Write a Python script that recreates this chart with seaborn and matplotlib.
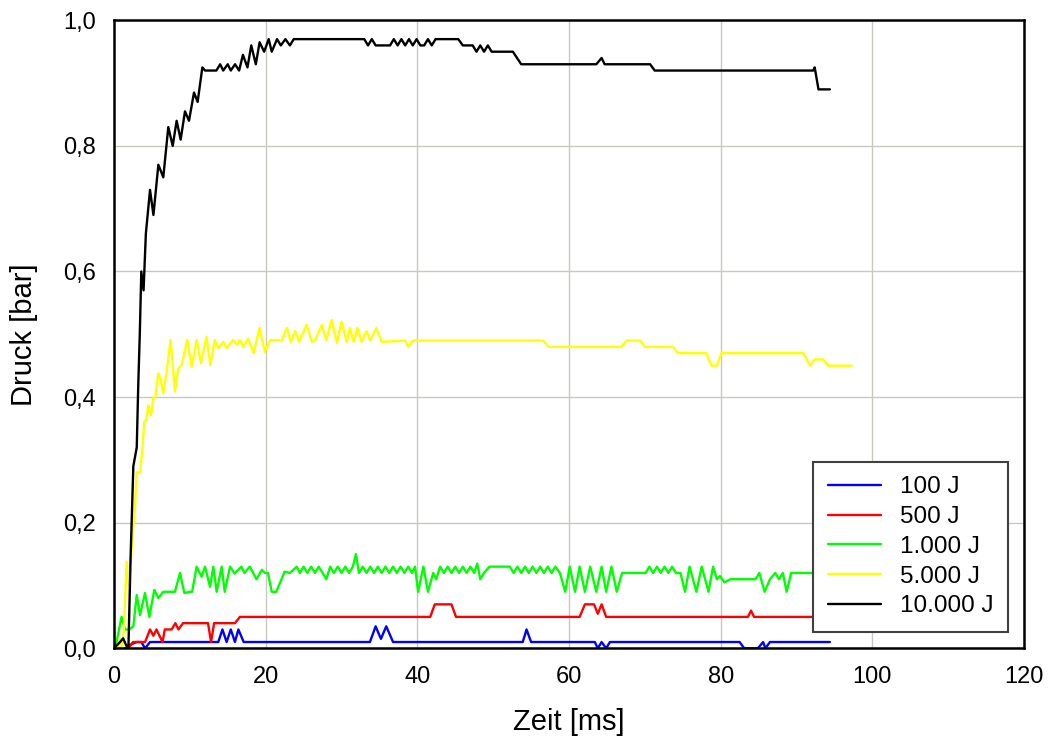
import numpy as np
import pandas as pd
import matplotlib
matplotlib.use("Agg")
import matplotlib.pyplot as plt
import seaborn as sns

# ---------------- data ----------------
x_100 = [0, 1.5, 2.0, 3.0, 3.6, 4.1, 4.75, 13.75, 14.3, 14.85, 15.4, 15.95, 16.4, 17.1,
         33.75, 34.5, 35.2, 35.9, 36.8, 53.9, 54.4, 55.0, 63.4, 63.8, 64.3, 64.9, 65.4,
         82.5, 83.1, 84.9, 85.6, 85.9, 86.5, 94.4]
y_100 = [0.0, 0.0, 0.005, 0.01, 0.01, 0.0, 0.01, 0.01, 0.03, 0.01, 0.03, 0.01, 0.03, 0.01,
         0.01, 0.035, 0.015, 0.035, 0.01, 0.01, 0.03, 0.01, 0.01, 0.0, 0.01, 0.0, 0.01,
         0.01, 0.0, 0.0, 0.01, 0.0, 0.01, 0.01]

x_500 = [0, 1.9, 2.5, 3.0, 4.1, 4.75, 5.2, 5.6, 6.0, 6.4, 6.7, 7.6, 8.1, 8.5, 9.1, 12.4,
         12.8, 13.2, 15.95, 16.6, 41.7, 42.3, 44.5, 45.1, 61.4, 62.1, 63.3, 63.8, 64.3,
         64.9, 83.6, 84.0, 84.4, 95.0]
y_500 = [0.0, 0.0, 0.01, 0.01, 0.01, 0.03, 0.02, 0.03, 0.02, 0.01, 0.03, 0.03, 0.04, 0.03,
         0.04, 0.04, 0.01, 0.04, 0.04, 0.05, 0.05, 0.07, 0.07, 0.05, 0.05, 0.07, 0.07,
         0.055, 0.07, 0.05, 0.05, 0.06, 0.05, 0.05]

x_1000 = [0, 0.3, 1.0, 1.45, 2.0, 2.55, 3.0, 3.43, 4.09, 4.66, 5.32, 5.84, 6.5, 8.04, 8.7,
          9.28, 9.9, 10.3, 10.9, 11.56, 12.0, 12.66, 13.1, 13.54, 14.2, 14.6, 15.3, 15.9,
          16.8, 17.2, 17.9, 18.8, 19.5, 19.9, 20.3, 20.8, 21.4, 22.5, 23.2, 24.1, 24.5,
          25.0, 25.5, 26.0, 26.5, 27.0, 27.5, 28.0, 28.5, 29.0, 29.5, 30.0, 30.5, 31.0,
          31.5, 31.9, 32.3, 32.8, 33.3, 33.8, 34.3, 34.8, 35.3, 35.8, 36.3, 36.8, 37.3,
          37.8, 38.3, 38.8, 39.3, 39.7, 40.1, 40.8, 41.4, 42.1, 42.5, 43.0, 43.5, 44.0,
          44.5, 45.0, 45.5, 46.0, 46.5, 47.0, 47.5, 47.9, 48.3, 48.8, 49.5, 52.2, 52.7,
          53.2, 53.7, 54.2, 54.7, 55.2, 55.7, 56.2, 56.7, 57.2, 57.7, 58.2, 58.8, 59.5,
          60.1, 60.8, 61.4, 62.1, 62.8, 63.6, 64.3, 64.9, 65.6, 66.3, 67.0, 70.1, 70.6,
          71.1, 71.6, 72.1, 72.6, 73.1, 73.6, 74.1, 74.7, 75.3, 75.9, 76.8, 77.5, 78.4,
          79.0, 79.5, 79.9, 80.5, 81.3, 84.6, 85.1, 85.8, 86.5, 87.2, 87.7, 88.2, 88.7,
          89.3, 96.0]
y_1000 = [0.0, 0.008, 0.05, 0.03, 0.03, 0.035, 0.085, 0.053, 0.088, 0.05, 0.093, 0.08, 0.09,
          0.09, 0.12, 0.088, 0.09, 0.09, 0.13, 0.114, 0.13, 0.098, 0.13, 0.09, 0.13, 0.09,
          0.13, 0.119, 0.13, 0.12, 0.13, 0.11, 0.125, 0.12, 0.12, 0.09, 0.09, 0.122, 0.12,
          0.13, 0.12, 0.13, 0.12, 0.13, 0.12, 0.13, 0.12, 0.11, 0.13, 0.12, 0.13, 0.12,
          0.13, 0.12, 0.13, 0.15, 0.12, 0.13, 0.12, 0.13, 0.12, 0.13, 0.12, 0.13, 0.12,
          0.13, 0.12, 0.13, 0.12, 0.13, 0.12, 0.13, 0.09, 0.13, 0.09, 0.12, 0.11, 0.13,
          0.12, 0.13, 0.12, 0.13, 0.12, 0.13, 0.12, 0.13, 0.12, 0.135, 0.11, 0.12, 0.13,
          0.13, 0.12, 0.13, 0.12, 0.13, 0.12, 0.13, 0.12, 0.13, 0.12, 0.13, 0.12, 0.13,
          0.12, 0.09, 0.13, 0.09, 0.13, 0.09, 0.13, 0.09, 0.13, 0.09, 0.13, 0.09, 0.12,
          0.12, 0.13, 0.12, 0.13, 0.12, 0.13, 0.12, 0.13, 0.12, 0.12, 0.09, 0.13, 0.09,
          0.13, 0.09, 0.13, 0.11, 0.115, 0.105, 0.11, 0.11, 0.12, 0.09, 0.11, 0.12, 0.11,
          0.12, 0.09, 0.12, 0.12]

x_5000 = [0, 0.5, 0.8, 1.1, 1.3, 1.67, 2.0, 2.33, 2.77, 2.99, 3.43, 3.65, 4.0, 4.3, 4.53,
          4.88, 5.18, 5.45, 5.84, 6.1, 6.5, 6.94, 7.47, 8.04, 8.48, 8.9, 9.67, 10.24, 10.9,
          11.47, 12.2, 12.7, 13.3, 13.75, 14.4, 14.86, 15.7, 16.2, 16.6, 17.05, 17.7, 18.4,
          19.2, 19.9, 20.6, 22.1, 22.8, 23.3, 23.9, 24.4, 25.4, 26.1, 26.5, 27.4, 28.0,
          28.7, 29.4, 30.0, 30.7, 31.1, 31.6, 32.1, 32.65, 33.3, 33.8, 34.6, 35.3, 38.4,
          38.8, 39.4, 56.6, 57.3, 66.9, 67.6, 69.4, 70.0, 73.7, 74.4, 78.1, 78.8, 79.5,
          80.1, 90.9, 91.8, 92.4, 93.5, 94.2, 97.3]
y_5000 = [0.0, 0.0, 0.015, 0.0, 0.03, 0.138, 0.10, 0.16, 0.225, 0.28, 0.28, 0.305, 0.36,
          0.365, 0.387, 0.371, 0.398, 0.40, 0.438, 0.43, 0.406, 0.44, 0.491, 0.409, 0.446,
          0.45, 0.491, 0.448, 0.491, 0.454, 0.496, 0.451, 0.491, 0.478, 0.488, 0.478, 0.491,
          0.483, 0.491, 0.48, 0.493, 0.47, 0.51, 0.472, 0.491, 0.49, 0.51, 0.488, 0.505,
          0.488, 0.515, 0.488, 0.49, 0.515, 0.491, 0.523, 0.486, 0.52, 0.488, 0.51, 0.488,
          0.51, 0.488, 0.505, 0.49, 0.51, 0.488, 0.49, 0.48, 0.49, 0.49, 0.48, 0.48, 0.49,
          0.49, 0.48, 0.48, 0.47, 0.47, 0.45, 0.45, 0.47, 0.47, 0.45, 0.46, 0.46, 0.45, 0.45]

x_10000 = [0, 0.8, 1.2, 1.6, 1.9, 2.2, 2.55, 3.0, 3.2, 3.4, 3.6, 3.9, 4.2, 4.75, 5.2, 5.85,
           6.5, 7.16, 7.74, 8.26, 8.79, 9.36, 9.89, 10.55, 11.03, 11.65, 12.0, 13.5, 14.0,
           14.4, 15.0, 15.4, 15.96, 16.5, 17.0, 17.6, 18.1, 18.7, 19.2, 19.8, 20.4, 20.8,
           21.5, 22.0, 22.6, 23.2, 23.7, 33.0, 33.5, 34.0, 34.5, 35.0, 36.4, 36.9, 37.4,
           37.9, 38.4, 38.9, 39.4, 39.9, 40.4, 40.9, 41.4, 41.9, 42.4, 43.4, 45.4, 46.0,
           47.3, 47.8, 48.3, 48.8, 49.3, 49.8, 52.6, 53.7, 63.6, 64.3, 64.7, 70.7, 71.3,
           92.2, 92.4, 92.9, 94.4]
y_10000 = [0.0, 0.01, 0.016, 0.005, 0.0, 0.15, 0.29, 0.32, 0.42, 0.50, 0.60, 0.57, 0.66,
           0.73, 0.69, 0.77, 0.75, 0.83, 0.80, 0.84, 0.81, 0.855, 0.84, 0.885, 0.87, 0.925,
           0.92, 0.92, 0.93, 0.92, 0.93, 0.92, 0.93, 0.92, 0.945, 0.925, 0.96, 0.93, 0.965,
           0.95, 0.97, 0.95, 0.97, 0.96, 0.97, 0.96, 0.97, 0.97, 0.96, 0.97, 0.96, 0.96,
           0.96, 0.97, 0.96, 0.97, 0.96, 0.97, 0.96, 0.97, 0.96, 0.96, 0.97, 0.96, 0.97,
           0.97, 0.97, 0.96, 0.96, 0.95, 0.96, 0.95, 0.96, 0.95, 0.95, 0.93, 0.93, 0.94,
           0.93, 0.93, 0.92, 0.92, 0.925, 0.89, 0.89]

series_names = ["100 J", "500 J", "1.000 J", "5.000 J", "10.000 J"]
series_x = [x_100, x_500, x_1000, x_5000, x_10000]
series_y = [y_100, y_500, y_1000, y_5000, y_10000]
series_colors = ["#0000ff", "#ff0000", "#00ff00", "#ffff00", "#000000"]

x_ticks = [0, 20, 40, 60, 80, 100, 120]
y_ticks = [0.0, 0.2, 0.4, 0.6, 0.8, 1.0]
y_tick_labels = ["0,0", "0,2", "0,4", "0,6", "0,8", "1,0"]

# ---------------- build long-form table ----------------
frames = []
for name, xs, ys in zip(series_names, series_x, series_y):
    frames.append(pd.DataFrame({"Zeit": xs, "Druck": ys, "Serie": name,
                                "order": np.arange(len(xs))}))
df = pd.concat(frames, ignore_index=True)

sns.set_style("white")
plt.rcParams["font.family"] = ["Liberation Sans", "DejaVu Sans"]
plt.rcParams["lines.solid_joinstyle"] = "round"

fig = plt.figure(figsize=(10.49, 7.44), dpi=100)
ax = fig.add_axes([114 / 1049, (744 - 648.3) / 744, 910 / 1049, 628 / 744])

palette = dict(zip(series_names, series_colors))
sns.lineplot(data=df, x="Zeit", y="Druck", hue="Serie", hue_order=series_names,
             palette=palette, sort=False, estimator=None, linewidth=1.7, ax=ax,
             legend=True)

ax.set_xlim(0, 120)
ax.set_ylim(0, 1.0)
ax.set_xticks(x_ticks)
ax.set_xticklabels([str(t) for t in x_ticks])
ax.set_yticks(y_ticks)
ax.set_yticklabels(y_tick_labels)
ax.grid(True, color="#c8c8c0", linewidth=1.0)
ax.set_axisbelow(True)
for sp in ax.spines.values():
    sp.set_color("black")
    sp.set_linewidth(1.8)
    sp.set_visible(True)
ax.tick_params(axis="both", direction="out", length=7, width=1.5, color="black",
               labelsize=17, labelcolor="black", pad=6)
ax.set_xlabel("Zeit [ms]", fontsize=21, labelpad=14, color="black")
ax.set_ylabel("Druck [bar]", fontsize=21, labelpad=18, color="black")

handles, labels = ax.get_legend_handles_labels()
leg = ax.legend(handles, labels, loc="lower right", bbox_to_anchor=(0.982, 0.026),
                borderaxespad=0, fontsize=17.5, frameon=True, fancybox=False,
                handlelength=2.2, handletextpad=0.75, labelspacing=0.32,
                borderpad=0.6)
leg.get_frame().set_edgecolor("#404040")
leg.get_frame().set_linewidth(1.5)
leg.get_frame().set_alpha(1.0)
for line in leg.get_lines():
    line.set_linewidth(1.7)
for t in leg.get_texts():
    t.set_color("black")

fig.savefig("out.png", dpi=100)
